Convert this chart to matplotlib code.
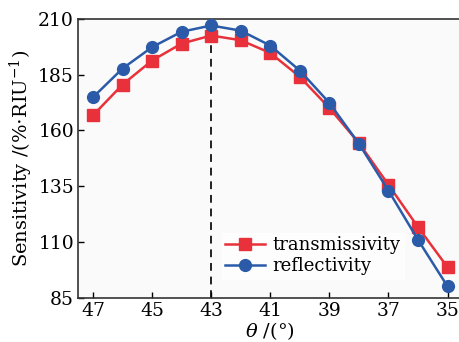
import matplotlib
matplotlib.use("Agg")
import matplotlib.pyplot as plt

# incidence angle (deg) and sensitivity values
theta = [47, 46, 45, 44, 43, 42, 41, 40, 39, 38, 37, 36, 35]
transmissivity = [166.7, 180.5, 191.3, 198.9, 202.5, 200.4, 194.7, 184.0, 170.0, 154.3, 135.6, 116.6, 98.6]
reflectivity = [174.8, 187.7, 197.3, 204.2, 207.0, 204.7, 198.0, 186.8, 172.3, 154.0, 133.0, 110.9, 90.0]
xticks = [47, 45, 43, 41, 39, 37, 35]
yticks = [85, 110, 135, 160, 185, 210]
peak_theta = 43

plt.rcParams['font.family'] = 'DejaVu Serif'
plt.rcParams['mathtext.fontset'] = 'dejavuserif'

fig = plt.figure(figsize=(4.6, 3.42), dpi=100)
ax = fig.add_axes([0.17, 0.13, 0.835, 0.815])
ax.set_facecolor('#fafafa')

ax.axvline(peak_theta, color='#222222', ls=(0, (4, 3)), lw=1.4, zorder=1)
ax.plot(theta, transmissivity, color='#e8313a', marker='s', ms=8, lw=1.8,
        label='transmissivity', zorder=2)
ax.plot(theta, reflectivity, color='#2b5ba8', marker='o', ms=8.5, lw=1.8,
        label='reflectivity', zorder=3)

ax.set_xlim(47.5, 34.5)
ax.set_ylim(85, 210)
ax.set_xticks(xticks)
ax.set_yticks(yticks)
ax.tick_params(direction='in', labelsize=13.5, length=4, width=1, pad=3)
for s in ax.spines.values():
    s.set_linewidth(1.2)
    s.set_color('#333333')

ax.set_xlabel(r'$\theta$ /(°)', fontsize=14, labelpad=0)
ax.set_ylabel(r'Sensitivity /(%$\cdot$RIU$^{-1}$)', fontsize=14, labelpad=2)

leg = ax.legend(loc='lower left', bbox_to_anchor=(0.35, 0.035), fontsize=13,
                frameon=True, fancybox=False, edgecolor='white',
                handlelength=2.2, handletextpad=0.4, borderpad=0.2,
                labelspacing=0.15)
leg.get_frame().set_facecolor('white')

fig.savefig('out.png', dpi=100)
